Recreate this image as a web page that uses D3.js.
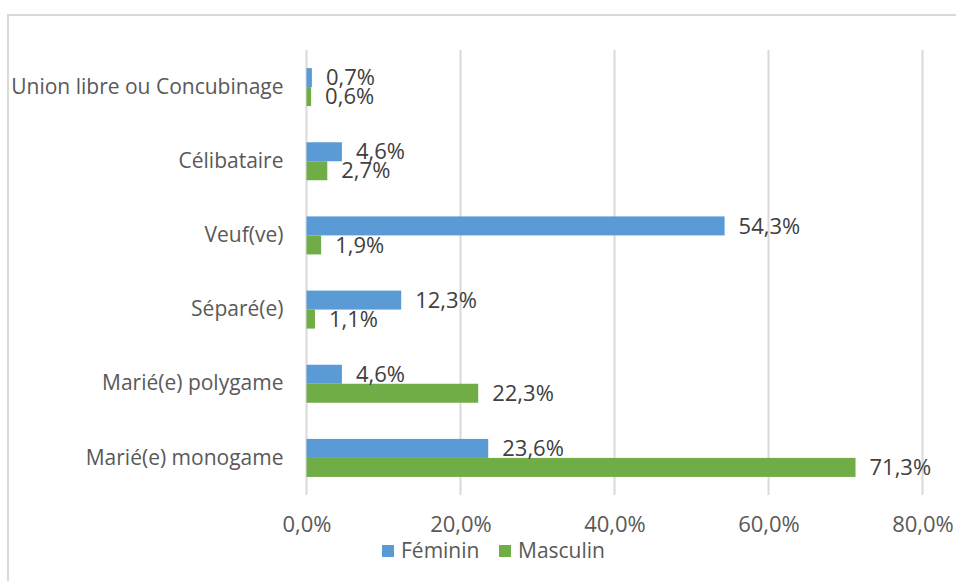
<!DOCTYPE html>
<html>
<head>
<meta charset="utf-8">
<script src="https://cdn.jsdelivr.net/npm/d3@7"></script>
<style>
  html, body { margin: 0; padding: 0; background: #fff; }
  svg { display: block; font-family: "Open Sans", sans-serif; }
</style>
</head>
<body>
<div id="chart"></div>
<script>
const categories = [
  "Union libre ou Concubinage",
  "Célibataire",
  "Veuf(ve)",
  "Séparé(e)",
  "Marié(e) polygame",
  "Marié(e) monogame",
];
const series = ["Féminin", "Masculin"];
const feminin = [0.7, 4.6, 54.3, 12.3, 4.6, 23.6];
const masculin = [0.6, 2.7, 1.9, 1.1, 22.3, 71.3];
const xTicks = [0, 20, 40, 60, 80];

const colors = { "Féminin": "#5b9bd5", "Masculin": "#70ad47" };

const width = 956;
const height = 581;
const margin = { top: 50, right: 34, bottom: 86, left: 306.5 };

const rows = categories.map((c, i) => ({
  category: c,
  values: [
    { key: "Féminin", value: feminin[i] },
    { key: "Masculin", value: masculin[i] },
  ],
}));

const fmt = (v) => v.toFixed(1).replace(".", ",") + "%";

const svg = d3
  .select("#chart")
  .append("svg")
  .attr("width", width)
  .attr("height", height);

// outer frame of the chart area (only top and left visible)
svg
  .append("rect")
  .attr("x", 8)
  .attr("y", 15)
  .attr("width", width + 20)
  .attr("height", height + 20)
  .attr("fill", "none")
  .attr("stroke", "#d9d9d9")
  .attr("stroke-width", 2);

const x = d3
  .scaleLinear()
  .domain([0, 80])
  .range([margin.left, width - margin.right + 0.5]);

const y = d3
  .scaleBand()
  .domain(categories)
  .range([margin.top, height - margin.bottom])
  .paddingInner(0.4877)
  .paddingOuter(0.4877 / 2);

const ySub = d3.scaleBand().domain(series).range([0, y.bandwidth()]);

// gridlines
svg
  .append("g")
  .attr("class", "grid")
  .selectAll("line")
  .data(xTicks)
  .join("line")
  .attr("x1", (d) => x(d))
  .attr("x2", (d) => x(d))
  .attr("y1", margin.top)
  .attr("y2", height - margin.bottom)
  .attr("stroke", "#d9d9d9")
  .attr("stroke-width", 2);

// x axis labels
const gx = svg
  .append("g")
  .attr("class", "axis axis--x")
  .attr("transform", `translate(0,${height - margin.bottom + 17})`)
  .call(
    d3
      .axisBottom(x)
      .tickValues(xTicks)
      .tickSize(0)
      .tickPadding(0)
      .tickFormat((d) => fmt(d))
  )
  .call((g) => g.select(".domain").remove());
gx.selectAll(".tick text")
  .attr("dy", "0.9em")
  .attr("font-size", 22)
  .attr("font-family", "'Open Sans', sans-serif")
  .attr("fill", "#595959");

// y axis labels
const gy = svg
  .append("g")
  .attr("class", "axis axis--y")
  .attr("transform", `translate(${margin.left - 23},0)`)
  .call(d3.axisLeft(y).tickSize(0).tickPadding(0))
  .call((g) => g.select(".domain").remove());
gy.selectAll(".tick text")
  .attr("font-size", 21)
  .attr("font-family", "'Open Sans', sans-serif")
  .attr("fill", "#595959");

// bars
const group = svg
  .append("g")
  .attr("class", "bars")
  .selectAll("g")
  .data(rows)
  .join("g")
  .attr("transform", (d) => `translate(0,${y(d.category)})`);

group
  .selectAll("rect")
  .data((d) => d.values)
  .join("rect")
  .attr("x", x(0))
  .attr("y", (d) => ySub(d.key))
  .attr("width", (d) => x(d.value) - x(0))
  .attr("height", ySub.bandwidth())
  .attr("fill", (d) => colors[d.key]);

group
  .selectAll("text")
  .data((d) => d.values)
  .join("text")
  .attr("x", (d) => x(d.value) + 14)
  .attr("y", (d) => ySub(d.key) + ySub.bandwidth() / 2)
  .attr("dy", "0.35em")
  .attr("font-size", 22)
  .attr("fill", "#404040")
  .text((d) => fmt(d.value));

// legend
const legend = svg
  .append("g")
  .attr("class", "legend")
  .attr("transform", "translate(382,551)");

const legendX = { "Féminin": 0, "Masculin": 117 };
const item = legend
  .selectAll("g")
  .data(series)
  .join("g")
  .attr("transform", (d) => `translate(${legendX[d]},0)`);
item
  .append("rect")
  .attr("x", 0)
  .attr("y", -6)
  .attr("width", 12)
  .attr("height", 12)
  .attr("fill", (d) => colors[d]);
item
  .append("text")
  .attr("x", 19)
  .attr("dy", "0.35em")
  .attr("font-size", 21)
  .attr("fill", "#595959")
  .text((d) => d);
</script>
</body>
</html>
